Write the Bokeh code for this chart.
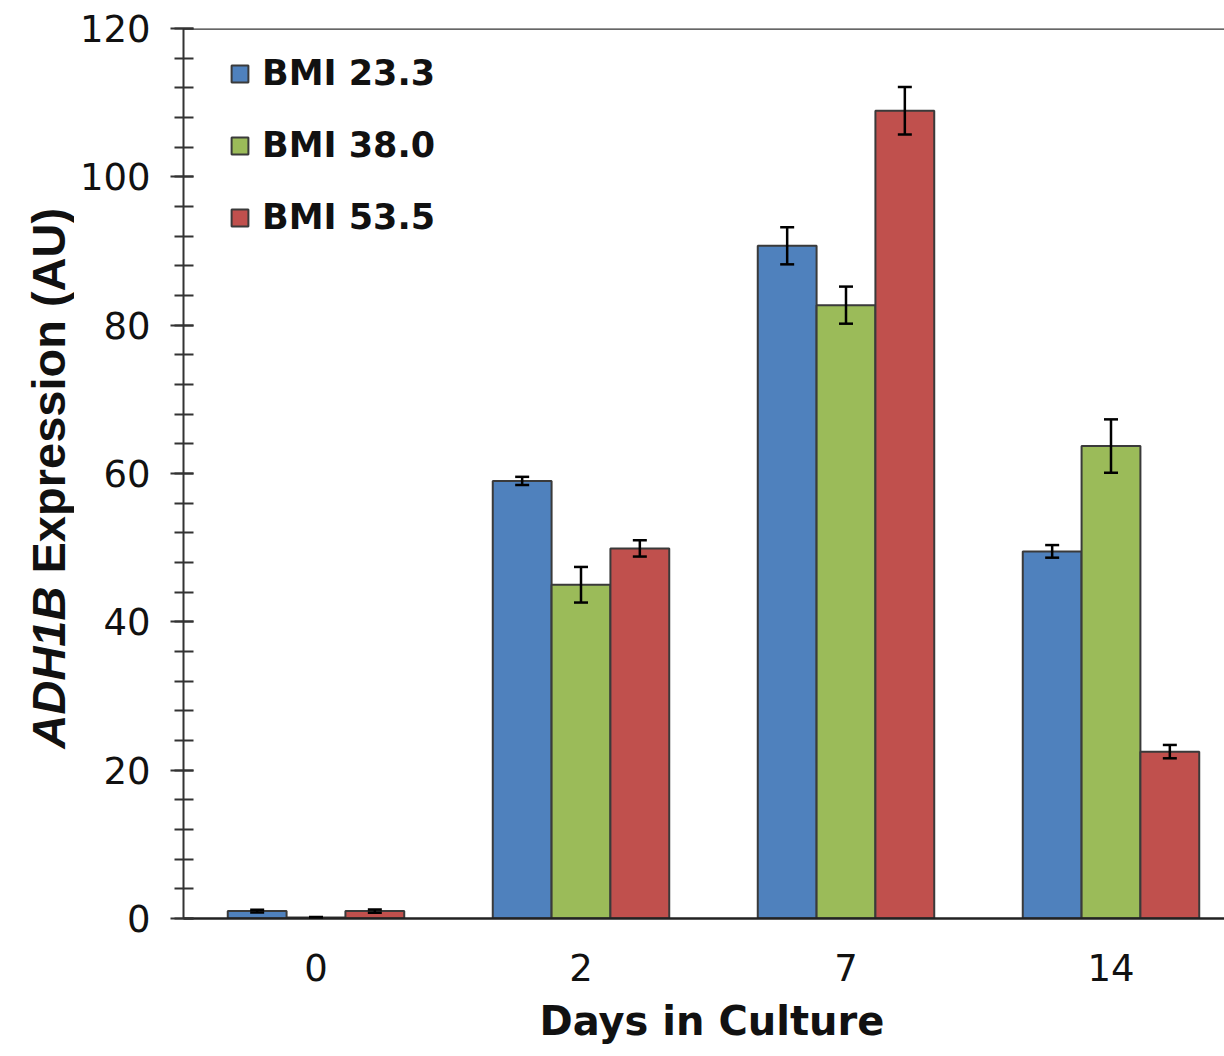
import numpy as np
from bokeh.plotting import figure
from bokeh.layouts import row
from bokeh.models import (ColumnDataSource, Range1d, SingleIntervalTicker, FixedTicker,
                          Whisker, TeeHead, Span, Title, Legend, LegendItem)
from bokeh.core.properties import value
from bokeh.transform import dodge
from bokeh.embed import file_html
from bokeh.resources import INLINE

# ---- data ----
days = ["0", "2", "7", "14"]
series = ["BMI 23.3", "BMI 38.0", "BMI 53.5"]
bmi_23_3 = [1.0, 59.0, 90.7, 49.5]
bmi_23_3_err = [0.18, 0.55, 2.5, 0.85]
bmi_38_0 = [0.15, 45.0, 82.7, 63.7]
bmi_38_0_err = [0.05, 2.4, 2.5, 3.6]
bmi_53_5 = [1.0, 49.9, 108.9, 22.5]
bmi_53_5_err = [0.22, 1.1, 3.2, 0.9]
colors = ["#4F81BD", "#9BBB59", "#C0504D"]
y_title_italic = "ADH1B"
y_title_rest = "Expression (AU)"
x_title = "Days in Culture"

values = [bmi_23_3, bmi_38_0, bmi_53_5]
errors = [bmi_23_3_err, bmi_38_0_err, bmi_53_5_err]

pos = list(np.arange(len(days)) + 0.5)
bar_w = 0.222
offsets = [-bar_w, 0.0, bar_w]

H = 1056
TOP = 28
BOTTOM = 138
LEFT_W = 74
p = figure(width=1224 - LEFT_W, height=H,
           x_range=Range1d(0, 1041 / 265), y_range=Range1d(0, 120),
           output_backend="svg", toolbar_location=None,
           min_border_left=183 - LEFT_W, min_border_right=0,
           min_border_top=TOP, min_border_bottom=BOTTOM)
p.outline_line_color = None
p.grid.visible = False
p.background_fill_color = "white"

items = []
for name, vals, errs, col, off in zip(series, values, errors, colors, offsets):
    v = np.array(vals)
    e = np.array(errs)
    src = ColumnDataSource(dict(pos=pos, top=vals, upper=list(v + e), lower=list(v - e)))
    r = p.vbar(x=dodge("pos", off, range=p.x_range), top="top", width=bar_w, bottom=0,
               source=src, fill_color=col, line_color="#3a3a3a", line_width=2)
    items.append(LegendItem(label=name, renderers=[r]))
    w = Whisker(base=dodge("pos", off, range=p.x_range), upper="upper", lower="lower", source=src,
                line_color="black", line_width=2.5, level="overlay",
                upper_head=TeeHead(size=14, line_color="black", line_width=2.5),
                lower_head=TeeHead(size=14, line_color="black", line_width=2.5))
    p.add_layout(w)

# top border line
p.add_layout(Span(location=120, dimension="width", line_color="#333333", line_width=2.5))

# y axis
yax = p.yaxis[0]
yax.ticker = SingleIntervalTicker(interval=20, num_minor_ticks=5)
yax.axis_line_width = 2
yax.axis_line_color = "#333333"
yax.major_tick_line_color = "#333333"
yax.minor_tick_line_color = "#333333"
yax.major_tick_line_width = 2
yax.minor_tick_line_width = 2
yax.major_tick_in = 10
yax.major_tick_out = 13
yax.minor_tick_in = 10
yax.minor_tick_out = 9
yax.major_label_text_font = "DejaVu Sans"
yax.major_label_text_font_size = "37px"
yax.major_label_text_color = "#111111"
yax.major_label_standoff = 20

# x axis
xax = p.xaxis[0]
xax.ticker = FixedTicker(ticks=pos)
xax.major_label_overrides = {float(k): d for k, d in zip(pos, days)}
xax.axis_line_width = 2.5
xax.axis_line_color = "#222222"
xax.major_tick_in = 0
xax.major_tick_out = 0
xax.minor_tick_in = 0
xax.minor_tick_out = 0
xax.major_label_text_font = "DejaVu Sans"
xax.major_label_text_font_size = "37px"
xax.major_label_text_color = "#111111"
xax.major_label_standoff = 35

# x axis title
p.add_layout(Title(text=x_title, align="left", offset=356, text_font="DejaVu Sans",
                   text_font_style="bold", text_font_size="40px", text_color="#111111",
                   standoff=24), "below")

legend = Legend(items=items, location=(46, 680), orientation="vertical",
                glyph_width=21, glyph_height=21, label_height=42, spacing=30,
                label_standoff=12, padding=0, margin=0,
                label_text_font="DejaVu Sans", label_text_font_style="bold",
                label_text_font_size="35px", label_text_color="#111111",
                background_fill_alpha=0, border_line_color=None)
p.add_layout(legend)

# y axis title panel (mixed italic / upright text); frame aligned with main frame
yl = figure(width=LEFT_W, height=H, x_range=Range1d(0, LEFT_W), y_range=Range1d(0, H - TOP - BOTTOM),
            output_backend="svg", toolbar_location=None,
            min_border_left=0, min_border_right=0, min_border_top=TOP, min_border_bottom=BOTTOM)
yl.axis.visible = False
yl.grid.visible = False
yl.outline_line_color = None
yl.text(x=[48], y=[H - BOTTOM - 748], text=[y_title_italic], angle=np.pi / 2,
        text_font=value("Liberation Sans"), text_font_style="bold italic",
        text_font_size="47px", text_align="left", text_baseline="alphabetic", text_color="#111111")
yl.text(x=[48], y=[H - BOTTOM - 573], text=[y_title_rest], angle=np.pi / 2,
        text_font=value("Liberation Sans"), text_font_style="bold",
        text_font_size="47px", text_align="left", text_baseline="alphabetic", text_color="#111111")

layout = row(yl, p, spacing=0)
open("out.html", "w").write(file_html(layout, INLINE))
